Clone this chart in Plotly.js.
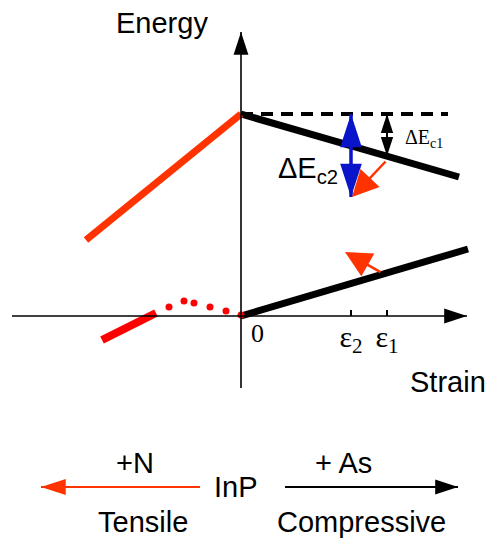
<!DOCTYPE html>
<html>
<head>
<meta charset="utf-8">
<script src="https://cdn.plot.ly/plotly-3.0.1.min.js"></script>
<style>html,body{margin:0;padding:0;background:#fff;}#chart{width:490px;height:538px;}</style>
</head>
<body>
<div id="chart"></div>
<script>
// ---- data (strain on x, energy on y; arbitrary units) ----
const eps2 = 1.10;
const eps1 = 1.46;
const tickVals = [eps2, eps1];
const tickText = ['ε<sub>2</sub>', 'ε<sub>1</sub>'];

// compressive side (InP + As)
const cbCompX = [0, 2.18];
const cbCompY = [2.02, 1.39];
const vbCompX = [0, 2.27];
const vbCompY = [0, 0.67];
const refLevelX = [0, 2.07];
const refLevelY = [2.02, 2.02];

// tensile side (InP + N)
const cbTensX = [-1.55, 0];
const cbTensY = [0.76, 2.02];
const vbTensX = [-1.39, -0.85];
const vbTensY = [-0.24, 0.03];
const dotsX = [-0.72, -0.57, -0.47, -0.31, -0.15, 0];
const dotsY = [0.09, 0.15, 0.13, 0.09, 0.05, 0.01];

// axes extents
const strainAxisX = [-2.29, 2.26];
const energyAxisY = [-0.72, 2.84];

// arrows: [tailX, tailY, tipX, tipY]
const dEc2Arrow = [eps2, 2.02, eps2, 1.19];
const dEc1Arrow = [eps1, 2.02, eps1, 1.60];
const cbShiftArrow = [eps1, 1.56, 1.11, 1.19];
const vbShiftArrow = [1.41, 0.43, 1.04, 0.64];
const tensileArrow = [-0.41, -1.71, -2.00, -1.71];
const compArrow = [0.44, -1.71, 2.17, -1.71];

const ORANGE = '#ff3300';
const RED = '#ff0000';
const BLUE = 'rgb(10,20,200)';
const SANS = 'Liberation Sans, Arial, sans-serif';
const SERIF = 'Liberation Serif, Times New Roman, serif';

const traces = [
  {x: cbCompX, y: cbCompY, mode: 'lines', line: {color: '#000', width: 7}},
  {x: vbCompX, y: vbCompY, mode: 'lines', line: {color: '#000', width: 7}},
  {x: refLevelX, y: refLevelY, mode: 'lines', line: {color: '#000', width: 4, dash: '12px,8px'}},
  {x: cbTensX, y: cbTensY, mode: 'lines', line: {color: ORANGE, width: 7}},
  {x: vbTensX, y: vbTensY, mode: 'lines', line: {color: RED, width: 8}},
  {x: dotsX, y: dotsY, mode: 'markers', marker: {color: RED, size: 7}}
];

// narrow arrow = shaft line + arrowhead marker at the tip, oriented along the shaft
function arrow(a, color, width, head, both) {
  const mk = {symbol: 'arrow', size: [0, head], angleref: 'previous', color: color, opacity: 1, line: {width: 0}};
  traces.push({x: [a[0], a[2]], y: [a[1], a[3]], mode: 'lines', line: {color: color, width: width}});
  traces.push({x: [a[0], a[2]], y: [a[1], a[3]], mode: 'markers', marker: mk});
  if (both) {
    traces.push({x: [a[2], a[0]], y: [a[3], a[1]], mode: 'markers', marker: mk});
  }
}
arrow([strainAxisX[0], 0, strainAxisX[1], 0], '#000', 1.6, 24);
arrow([0, energyAxisY[0], 0, energyAxisY[1]], '#000', 1.6, 24);
arrow(dEc2Arrow, BLUE, 3.5, 35, true);
arrow(dEc1Arrow, '#000', 2, 20, true);
arrow(tensileArrow, ORANGE, 2, 26);
arrow(compArrow, '#000', 2, 24);

// broad arrow heads (annotation arrows)
function broadArrow(a, color, width, size) {
  return {x: a[2], y: a[3], ax: a[0], ay: a[1], xref: 'x', yref: 'y', axref: 'x', ayref: 'y',
    text: '', showarrow: true, arrowcolor: color, arrowwidth: width, arrowhead: 2, arrowsize: size, standoff: 0};
}

function label(x, y, text, size, family) {
  return {x: x, y: y, xref: 'x', yref: 'y', text: text, showarrow: false,
    font: {family: family || SANS, size: size, color: '#000'}, xanchor: 'center', yanchor: 'middle'};
}

const annotations = [
  broadArrow(cbShiftArrow, ORANGE, 2.5, 2.1),
  broadArrow(vbShiftArrow, ORANGE, 2.5, 2.1),
  label(-0.79, 2.93, 'Energy', 29),
  label(2.07, -0.66, 'Strain', 29),
  label(0.16, -0.17, '0', 26, SERIF),
  label(0.67, 1.46, 'ΔE<sub>c2</sub>', 29),
  label(1.83, 1.78, 'ΔE<sub>c1</sub>', 20, SERIF),
  label(-1.06, -1.47, '+N', 29),
  label(1.02, -1.47, '+ As', 29),
  label(-0.05, -1.71, 'InP', 29),
  label(-0.98, -2.06, 'Tensile', 29),
  label(1.20, -2.06, 'Compressive', 29)
];

const layout = {
  width: 490, height: 538,
  margin: {l: 0, r: 0, t: 0, b: 0},
  paper_bgcolor: '#fff', plot_bgcolor: '#fff',
  showlegend: false,
  xaxis: {range: [-2.41, 2.49], showgrid: false, zeroline: false, showline: false,
    tickvals: tickVals, ticktext: tickText, ticks: 'inside', ticklen: 6, tickwidth: 1.5, tickcolor: '#000',
    tickfont: {family: SERIF, size: 30, color: '#000'},
    anchor: 'free', position: 2.22 / 5.38, fixedrange: true},
  yaxis: {range: [-2.22, 3.16], visible: false, fixedrange: true},
  annotations: annotations
};

Plotly.newPlot('chart', traces, layout, {displayModeBar: false, staticPlot: true});
</script>
</body>
</html>
